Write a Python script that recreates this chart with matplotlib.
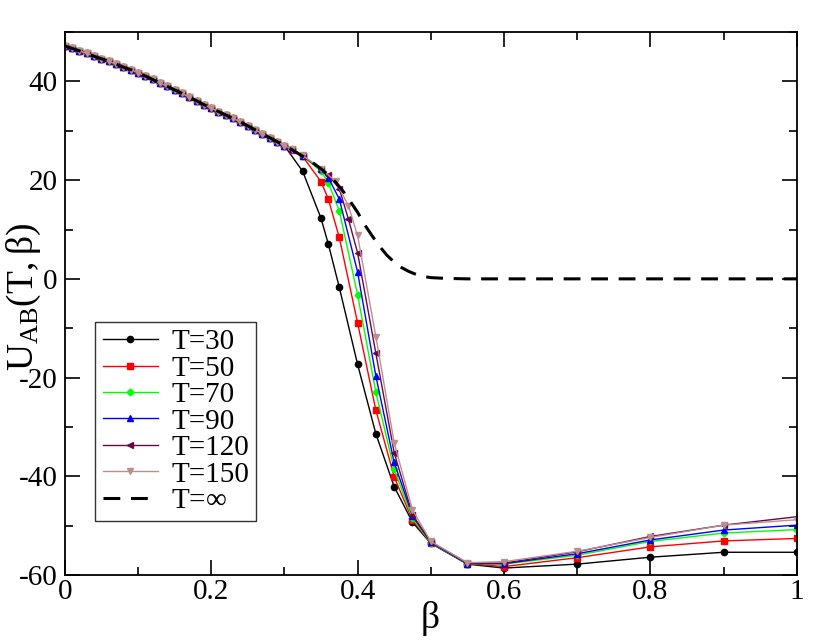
import matplotlib
matplotlib.use("Agg")
import matplotlib.pyplot as plt
from matplotlib.ticker import MultipleLocator

plt.rcParams['font.family'] = ['Liberation Serif', 'DejaVu Serif']
plt.rcParams['mathtext.fontset'] = 'custom'
plt.rcParams['mathtext.rm'] = 'Liberation Serif'
plt.rcParams['axes.unicode_minus'] = False

# common high-temperature part (all curves coincide)
beta_lo = [0.00, 0.01, 0.02, 0.03, 0.04, 0.05, 0.06, 0.07, 0.08, 0.09,
           0.10, 0.11, 0.12, 0.13, 0.14, 0.15, 0.16, 0.17, 0.18, 0.19,
           0.20, 0.21, 0.22, 0.23, 0.24, 0.25, 0.26, 0.27, 0.28, 0.29, 0.30]
u_lo = [47.2, 46.7, 46.2, 45.7, 45.1, 44.6, 44.1, 43.5, 42.9, 42.4,
        41.8, 41.1, 40.4, 39.7, 39.0, 38.3, 37.6, 36.8, 36.1, 35.3,
        34.6, 33.9, 33.2, 32.5, 31.8, 31.0, 30.2, 29.4, 28.6, 27.8, 27.0]

beta_30 = [0.325, 0.35, 0.36, 0.375, 0.4, 0.425, 0.45, 0.475, 0.5, 0.55, 0.6, 0.7, 0.8, 0.9, 1.0]
u_30 = [21.8, 12.3, 7.1, -1.7, -17.3, -31.4, -42.1, -49.3, -53.6, -57.8, -58.6, -57.8, -56.4, -55.4, -55.4]

beta_50 = [0.31, 0.325, 0.35, 0.36, 0.375, 0.4, 0.425, 0.45, 0.475, 0.5, 0.55, 0.6, 0.7, 0.8, 0.9, 1.0]
u_50 = [26.2, 24.8, 19.7, 16.2, 8.4, -8.9, -26.6, -40.1, -48.9, -53.5, -57.7, -58.3, -56.5, -54.3, -53.1, -52.6]

beta_70 = [0.31, 0.325, 0.35, 0.36, 0.375, 0.4, 0.425, 0.45, 0.475, 0.5, 0.55, 0.6, 0.7, 0.8, 0.9, 1.0]
u_70 = [26.3, 24.9, 21.8, 19.5, 13.8, -3.2, -23.0, -38.6, -48.5, -53.5, -57.7, -57.8, -56.0, -53.2, -51.5, -50.8]

beta_90 = [0.31, 0.325, 0.35, 0.36, 0.375, 0.4, 0.425, 0.45, 0.475, 0.5, 0.55, 0.6, 0.7, 0.8, 0.9, 1.0]
u_90 = [26.3, 24.9, 22.2, 20.5, 16.2, 1.4, -19.7, -37.2, -48.0, -53.4, -57.7, -57.7, -55.7, -52.9, -50.9, -49.9]

beta_120 = [0.31, 0.325, 0.35, 0.36, 0.375, 0.3875, 0.4, 0.425, 0.45, 0.475, 0.5, 0.55, 0.6, 0.7, 0.8, 0.9, 1.0]
u_120 = [26.3, 24.9, 22.3, 21.0, 18.3, 12.1, 5.3, -15.1, -35.2, -47.8, -53.3, -57.6, -57.6, -55.3, -52.2, -49.9, -48.2]

beta_150 = [0.31, 0.325, 0.35, 0.37, 0.3875, 0.4, 0.425, 0.45, 0.475, 0.5, 0.55, 0.6, 0.7, 0.8, 0.9, 1.0]
u_150 = [26.3, 25.0, 22.3, 19.8, 14.8, 8.8, -11.7, -33.2, -46.8, -53.2, -57.5, -57.3, -55.2, -52.4, -49.9, -48.8]

beta_inf = [0.31, 0.32, 0.33, 0.34, 0.35, 0.36, 0.37, 0.38, 0.39, 0.40,
            0.41, 0.42, 0.43, 0.44, 0.45, 0.46, 0.47, 0.48, 0.49, 0.50,
            0.52, 0.55, 0.6, 0.7, 0.8, 0.9, 1.0]
u_inf = [26.2, 25.3, 24.4, 23.4, 22.3, 21.1, 19.6, 17.8, 15.7, 13.5,
         10.9, 8.7, 6.6, 4.8, 3.4, 2.3, 1.5, 0.9, 0.5, 0.25,
         0.1, 0.0, 0.0, 0.0, 0.0, 0.0, 0.0]

series = [
    ("T=30", beta_30, u_30, "black", "o"),
    ("T=50", beta_50, u_50, "#ff0000", "s"),
    ("T=70", beta_70, u_70, "#00ff00", "D"),
    ("T=90", beta_90, u_90, "#0000ff", "^"),
    ("T=120", beta_120, u_120, "#670748", "<"),
    ("T=150", beta_150, u_150, "#bc8f8f", "v"),
]

fig = plt.figure(figsize=(8.3, 6.42), dpi=100)
ax = fig.add_axes([0.078, 0.1044, 0.882, 0.8456])

for label, b, u, col, mk in series:
    ax.plot(beta_lo + b, u_lo + u, color=col, marker=mk, markersize=4.5 if mk != "D" else 3.5,
            lw=1.0, label=label)

ax.plot(beta_lo + beta_inf, u_lo + u_inf, color="black", lw=2.2, dashes=(5.5, 3.5), label=r"T=$\infty$")

ax.set_xlim(0, 1)
ax.set_ylim(-60, 50)
ax.xaxis.set_minor_locator(MultipleLocator(0.1))
ax.yaxis.set_minor_locator(MultipleLocator(10))
ax.set_xticks([0, 0.2, 0.4, 0.6, 0.8, 1.0])
ax.set_xticklabels(["0", "0.2", "0.4", "0.6", "0.8", "1"])
ax.set_yticks([-60, -40, -20, 0, 20, 40])
ax.tick_params(which="both", direction="in", top=True, right=True, width=1.2, labelsize=21)
ax.tick_params(which="major", length=11)
ax.tick_params(which="minor", length=6)
ax.tick_params(axis="x", pad=3)
ax.tick_params(axis="y", pad=5)
for sp in ax.spines.values():
    sp.set_linewidth(1.3)

# axis titles placed directly in figure pixels
fig.text(430 / 830, 1 - 618 / 642, r"$\mathregular{\beta}$", fontsize=27, ha="center", va="center")
fig.text(24 / 830, 1 - 297 / 642, r"$\mathregular{U_{AB}(T,\beta)}$", fontsize=27,
         rotation=90, ha="center", va="center")

leg = ax.legend(loc="lower left", bbox_to_anchor=(0.042, 0.099), fontsize=21, frameon=True,
                fancybox=False, edgecolor="black", handlelength=1.9, handletextpad=0.45,
                labelspacing=0.0, borderpad=0.25, borderaxespad=0)
leg.get_frame().set_linewidth(1.0)

fig.savefig("out.png", dpi=100)
